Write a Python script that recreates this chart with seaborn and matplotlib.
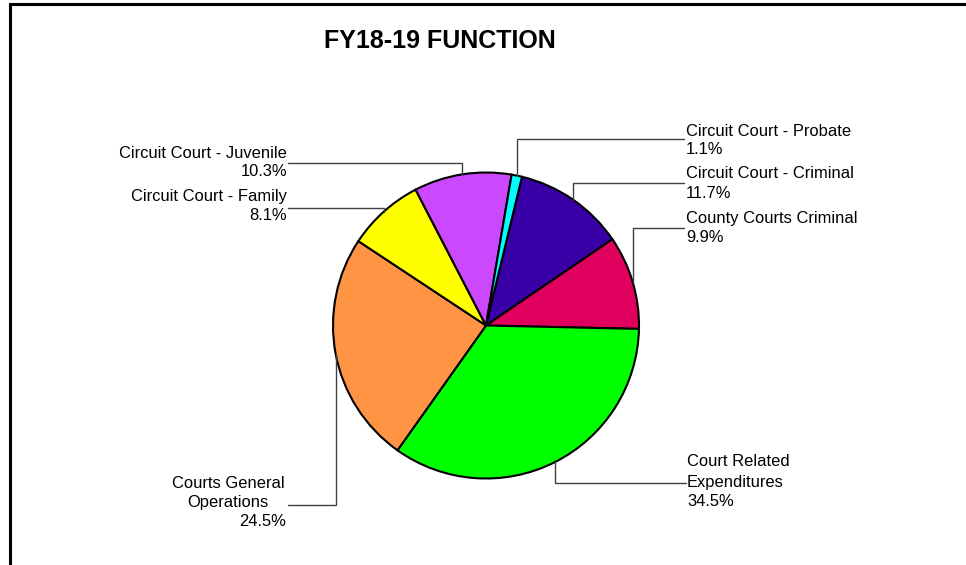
import numpy as np
import matplotlib
matplotlib.use("Agg")
import matplotlib.pyplot as plt
import seaborn as sns

# ---- data (clockwise from the wedge right after the top) ----
categories = ["Circuit Court - Criminal", "County Courts Criminal", "Court Related Expenditures",
              "Courts General Operations", "Circuit Court - Family", "Circuit Court - Juvenile",
              "Circuit Court - Probate"]
values = [11.7, 9.9, 34.5, 24.5, 8.1, 10.3, 1.1]
pct_labels = ["11.7%", "9.9%", "34.5%", "24.5%", "8.1%", "10.3%", "1.1%"]
colors_hex = ["#3800A6", "#E0005E", "#00FF00", "#FF9544", "#FFFF00", "#CC48FF", "#00FFFF"]
title = "FY18-19 FUNCTION"

sns.set_theme(style="white")
plt.rcParams['font.family'] = ['Liberation Sans', 'DejaVu Sans']
plt.rcParams['text.color'] = 'black'

W, H = 966, 565
fig = plt.figure(figsize=(W / 100, H / 100), dpi=100)
ax = fig.add_axes([0, 0, 1, 1])
ax.set_xlim(0, W)
ax.set_ylim(0, H)
ax.set_aspect('equal')
ax.axis('off')

def Y(y):
    return H - y

cx, cy, R = 486, Y(325.5), 153
palette = sns.color_palette(colors_hex)
wedges, _ = ax.pie(values, colors=palette, startangle=76.4, counterclock=False,
                   center=(cx, cy), radius=R, frame=True,
                   wedgeprops=dict(edgecolor='black', linewidth=1.5))
ax.set_xlim(0, W)
ax.set_ylim(0, H)
ax.axis('off')

def anchor(i):
    w = wedges[i]
    a = np.deg2rad((w.theta1 + w.theta2) / 2)
    return cx + R * np.cos(a), cy + R * np.sin(a)

FS = 11.9
LC = '#404040'
TC = 'black'

# leader lines: (wedge index, line y (px from top), end x)
leaders = {0: (183, 684), 1: (228, 684), 6: (139, 684), 5: (163, 288), 4: (208, 288),
           2: (483, 686), 3: (505, 288)}
for i, (ly, ex) in leaders.items():
    ax0, ay0 = anchor(i)
    ax.plot([ax0, ax0, ex], [ay0, Y(ly), Y(ly)], color=LC, lw=1.0, solid_joinstyle='miter')

# right-side labels
right_lbl = [(6, 131, 150), (0, 173, 193), (1, 218, 238)]
for i, y1, y2 in right_lbl:
    ax.text(686, Y(y1), categories[i], ha='left', va='center', fontsize=FS, color=TC)
    ax.text(686, Y(y2), pct_labels[i], ha='left', va='center', fontsize=FS, color=TC)

# left-side labels
left_lbl = [(5, 153, 172), (4, 197, 216)]
for i, y1, y2 in left_lbl:
    ax.text(287, Y(y1), categories[i], ha='right', va='center', fontsize=FS, color=TC)
    ax.text(287, Y(y2), pct_labels[i], ha='right', va='center', fontsize=FS, color=TC)

# Court Related Expenditures
ax.text(687, Y(461), "Court Related", ha='left', va='center', fontsize=FS, color=TC)
ax.text(687, Y(482), "Expenditures", ha='left', va='center', fontsize=FS, color=TC)
ax.text(687, Y(502), pct_labels[2], ha='left', va='center', fontsize=FS, color=TC)

# Courts General Operations
ax.text(228, Y(483), "Courts General", ha='center', va='center', fontsize=FS, color=TC)
ax.text(228, Y(503), "Operations", ha='center', va='center', fontsize=FS, color=TC)
ax.text(286, Y(522), pct_labels[3], ha='right', va='center', fontsize=FS, color=TC)

# title
ax.text(440, Y(41), title, ha='center', va='center', fontsize=18, fontweight='bold', color=TC)

# frame
ax.plot([9.5, 9.5, W + 5], [Y(H + 5), Y(3.5), Y(3.5)], color='black', lw=2.2,
        clip_on=False, solid_joinstyle='miter')

fig.savefig("out.png", dpi=100)
